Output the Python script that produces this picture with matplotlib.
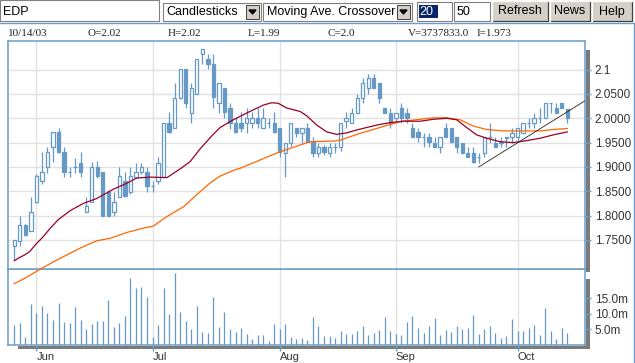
import numpy as np
import pandas as pd
import matplotlib
matplotlib.use('Agg')
import matplotlib.pyplot as plt
from matplotlib.patches import Rectangle, Polygon

plt.rcParams['font.family'] = ['Liberation Sans', 'DejaVu Sans']

# ---- data ----
dates = pd.bdate_range('2003-05-27', '2003-10-14')

opens = [1.738, 1.748, 1.780, 1.769, 1.828, 1.870, 1.899, 1.940, 1.971, 1.930,
         1.889, 1.899, 1.909, 1.808, 1.828, 1.899, 1.889, 1.849, 1.808, 1.839,
         1.870, 1.849, 1.880, 1.889, 1.890, 1.860, 1.870, 1.880, 1.990, 1.981,
         2.041, 2.101, 2.010, 2.051, 2.132, 2.121, 2.112, 2.031, 2.063, 2.021,
         1.991, 1.990, 1.990, 1.990, 2.000, 1.981, 1.990, 1.990, 1.981, 1.929,
         1.950, 1.981, 1.970, 1.981, 1.952, 1.929, 1.940, 1.929, 1.940, 1.940,
         1.995, 1.990, 2.010, 2.041, 2.062, 2.082, 2.072, 2.021, 2.010, 2.000,
         2.021, 2.010, 1.981, 1.972, 1.961, 1.961, 1.950, 1.940, 1.981, 1.981,
         1.961, 1.950, 1.929, 1.929, 1.920, 1.929, 1.961, 1.950, 1.950, 1.961,
         1.961, 1.961, 1.970, 1.990, 1.991, 2.000, 2.000, 2.031, 2.021, 2.031,
         2.020]
highs = [1.750, 1.799, 1.782, 1.839, 1.885, 1.931, 1.940, 1.971, 1.981, 1.940,
         1.900, 1.919, 1.930, 1.839, 1.910, 1.913, 1.889, 1.853, 1.849, 1.899,
         1.889, 1.899, 1.909, 1.909, 1.900, 1.870, 1.920, 1.990, 2.012, 2.073,
         2.101, 2.101, 2.073, 2.121, 2.142, 2.132, 2.132, 2.073, 2.063, 2.031,
         2.000, 2.012, 2.021, 2.012, 2.021, 2.021, 2.000, 2.012, 1.981, 1.950,
         1.990, 1.981, 1.981, 1.990, 1.962, 1.950, 1.945, 1.950, 1.950, 1.990,
         2.012, 2.021, 2.051, 2.082, 2.092, 2.092, 2.072, 2.021, 2.021, 2.010,
         2.031, 2.021, 1.990, 1.981, 1.970, 1.970, 1.961, 1.961, 1.990, 1.981,
         1.961, 1.950, 1.940, 1.940, 1.929, 1.961, 1.990, 1.961, 1.961, 1.962,
         1.981, 1.981, 1.990, 2.000, 2.010, 2.021, 2.031, 2.031, 2.031, 2.031,
         2.020]
lows = [1.708, 1.737, 1.757, 1.769, 1.825, 1.865, 1.888, 1.910, 1.928, 1.880,
        1.880, 1.887, 1.880, 1.808, 1.828, 1.878, 1.799, 1.799, 1.798, 1.839,
        1.838, 1.845, 1.878, 1.885, 1.849, 1.849, 1.865, 1.880, 1.970, 1.980,
        2.040, 2.021, 1.990, 2.051, 2.112, 2.101, 2.021, 2.010, 2.000, 1.977,
        1.970, 1.972, 1.970, 1.980, 1.980, 1.981, 1.981, 1.970, 1.920, 1.880,
        1.940, 1.961, 1.950, 1.952, 1.920, 1.920, 1.925, 1.920, 1.929, 1.932,
        1.980, 1.990, 2.010, 2.031, 2.051, 2.062, 2.031, 2.010, 1.980, 1.990,
        1.990, 1.990, 1.961, 1.952, 1.940, 1.940, 1.940, 1.929, 1.961, 1.952,
        1.929, 1.929, 1.920, 1.909, 1.909, 1.920, 1.950, 1.940, 1.940, 1.940,
        1.950, 1.952, 1.970, 1.981, 1.981, 1.990, 2.000, 2.010, 2.010, 2.021,
        1.990]
closes = [1.750, 1.780, 1.760, 1.808, 1.881, 1.890, 1.930, 1.971, 1.931, 1.890,
          1.890, 1.900, 1.890, 1.820, 1.899, 1.882, 1.799, 1.799, 1.828, 1.881,
          1.840, 1.881, 1.890, 1.899, 1.861, 1.861, 1.909, 1.990, 1.972, 2.041,
          2.101, 2.032, 2.062, 2.121, 2.142, 2.112, 2.043, 2.073, 2.012, 1.991,
          1.972, 1.981, 2.000, 2.000, 1.991, 2.000, 1.991, 1.972, 1.931, 1.950,
          1.990, 1.970, 1.981, 1.952, 1.929, 1.940, 1.931, 1.940, 1.940, 1.990,
          2.000, 2.010, 2.041, 2.072, 2.082, 2.062, 2.041, 2.010, 1.990, 2.010,
          2.000, 2.000, 1.962, 1.962, 1.961, 1.952, 1.940, 1.961, 1.961, 1.952,
          1.940, 1.929, 1.920, 1.911, 1.921, 1.961, 1.962, 1.940, 1.952, 1.960,
          1.970, 1.981, 1.990, 1.991, 2.000, 2.000, 2.031, 2.031, 2.010, 2.021,
          2.000]
# volume in millions
volume = [6.45, 7.1, 2.7, 13.2, 10.3, 12.6, 10.3, 8.1, 13.5, 7.4,
          7.1, 12.3, 8.1, 5.2, 6.8, 7.7, 7.7, 14.5, 5.8, 7.1,
          9.4, 21.6, 18.4, 18.7, 15.5, 2.6, 6.45, 18.4, 10.0, 23.2,
          10.6, 7.7, 5.2, 12.6, 4.2, 3.9, 15.5, 5.8, 10.6, 5.2,
          4.2, 5.5, 3.5, 1.9, 3.2, 3.2, 1.3, 6.8, 5.2, 6.8,
          2.7, 1.9, 2.3, 1.6, 9.0, 6.0, 2.9, 2.9, 2.3, 4.5,
          3.5, 3.5, 4.5, 6.1, 3.2, 3.9, 4.8, 9.0, 4.5, 3.5,
          3.2, 7.4, 9.4, 5.5, 3.9, 6.1, 8.7, 3.2, 4.8, 4.2,
          6.1, 5.2, 5.5, 9.7, 3.5, 5.2, 6.1, 3.9, 2.3, 2.9,
          8.4, 4.5, 4.5, 5.5, 6.45, 3.2, 11.9, 4.5, 1.9, 5.5,
          3.74]

# moving averages as drawn (day index, price)
ma20_day = [0, 1.0, 1.9, 2.8, 3.9, 5.2, 6.5, 8.0, 10.1, 12.5, 14.9, 17.9, 20.3,
            22.1, 24.5, 27.6, 30.0, 31.8, 33.6, 35.4, 37.2, 39.6, 42.6, 45.0,
            46.5, 47.7, 49.3, 51.7, 52.9, 54.7, 56.5, 58.3, 60.1, 61.9, 63.7,
            65.5, 67.9, 70.3, 73.4, 75.8, 78.2, 80.0, 81.8, 83.6, 85.4, 87.8,
            90.2, 92.6, 95.1, 97.5, 100]
ma20_val = [1.707, 1.714, 1.719, 1.726, 1.741, 1.756, 1.774, 1.792, 1.810, 1.825,
            1.835, 1.854, 1.866, 1.877, 1.879, 1.878, 1.896, 1.911, 1.937, 1.960,
            1.981, 1.997, 2.014, 2.027, 2.032, 2.031, 2.021, 2.014, 2.005, 1.986,
            1.972, 1.967, 1.970, 1.976, 1.981, 1.986, 1.991, 1.994, 1.994, 1.998,
            2.000, 1.997, 1.981, 1.966, 1.959, 1.952, 1.950, 1.954, 1.959, 1.966,
            1.972]
ma50_day = [0, 1.6, 3.4, 4.6, 7.1, 9.5, 11.9, 14.9, 17.3, 20.3, 23.3, 25.1, 27.6,
            30.6, 33.6, 35.4, 37.2, 39.9, 40.8, 44.4, 48.0, 51.7, 53.5, 57.7,
            58.9, 62.5, 66.1, 69.7, 73.4, 75.8, 78.2, 80.6, 83.0, 85.4, 88.4,
            91.4, 95.1, 97.5, 100]
ma50_val = [1.660, 1.669, 1.681, 1.689, 1.705, 1.719, 1.733, 1.748, 1.753, 1.765,
            1.774, 1.778, 1.798, 1.818, 1.849, 1.867, 1.881, 1.894, 1.897, 1.914,
            1.931, 1.945, 1.952, 1.953, 1.955, 1.969, 1.981, 1.993, 1.998, 2.001,
            2.001, 1.997, 1.984, 1.977, 1.974, 1.974, 1.974, 1.977, 1.979]

trend_day = [84, 103.2]
trend_val = [1.900, 2.036]

price_ticks = [1.75, 1.80, 1.85, 1.90, 1.95, 2.00, 2.05, 2.10]
price_labels = ['1.7500', '1.8000', '1.8500', '1.9000', '1.9500', '2.0000', '2.0500', '2.1']
vol_ticks = [5, 10, 15]
vol_labels = ['5.0m', '10.0m', '15.0m']

info = [(8, '10/14/03'), (88, 'O=2.02'), (168, 'H=2.02'), (248, 'L=1.99'),
        (328, 'C=2.0'), (408, 'V=3737833.0'), (477, 'I=1.973')]

# ---- style ----
BLUE = '#6699c6'
SPINE = '#6b9cc6'
GRID = '#e2e2e2'
RED = '#990022'
ORANGE = '#ff6600'
SHADOW = '#7a7a7a'
FACE = '#d4d0c8'

W, H = 635, 363
fig = plt.figure(figsize=(6.35, 3.63), dpi=100)


def rect(x0, y0, x1, y1):
    return [x0 / W, 1 - y1 / H, (x1 - x0) / W, (y1 - y0) / H]


bg = fig.add_axes([0, 0, 1, 1], zorder=0)
bg.set_xlim(0, W)
bg.set_ylim(H, 0)
bg.set_autoscale_on(False)
bg.axis('off')

# toolbar
def box(x0, y0, x1, y1, face='white'):
    bg.add_patch(Rectangle((x0, y0), x1 - x0, y1 - y0, facecolor=face,
                           edgecolor='#808080', lw=0.8))

def button(x0, y0, x1, y1, label):
    bg.add_patch(Rectangle((x0, y0), x1 - x0, y1 - y0, facecolor=FACE, edgecolor='none'))
    bg.plot([x0, x1, x1], [y1, y1, y0], color='#404040', lw=0.9)
    bg.plot([x0, x0, x1], [y1, y0, y0], color='white', lw=0.9)
    bg.text((x0 + x1) / 2, 14.5, label, ha='center', va='baseline', fontsize=9)

def dropdown(x0, x1, label):
    box(x0, 3, x1, 20.5)
    bx0, bx1 = x1 - 15, x1 - 2
    bg.add_patch(Rectangle((bx0, 5), bx1 - bx0, 13.5, facecolor=FACE, edgecolor='#404040', lw=0.7))
    cx = (bx0 + bx1) / 2
    bg.add_patch(Polygon([[cx - 3.5, 10], [cx + 3.5, 10], [cx, 14]], closed=True, color='black'))
    bg.text(x0 + 4, 15, label, ha='left', va='baseline', fontsize=9)

box(0, 0, 158.5, 20.5)
bg.text(3, 15, 'EDP', ha='left', va='baseline', fontsize=9)
dropdown(162.5, 261, 'Candlesticks')
dropdown(263, 412, 'Moving Ave. Crossover')
box(416.5, 1.5, 451.5, 20.5)
bg.add_patch(Rectangle((418.5, 4.5), 19, 13.5, facecolor='#0a246a', edgecolor='none'))
bg.text(419.5, 15, '20', ha='left', va='baseline', fontsize=9, color='white')
box(453.5, 1.5, 489.5, 20.5)
bg.text(456.5, 15, '50', ha='left', va='baseline', fontsize=9)
button(491.5, 0.5, 547.5, 20.5, 'Refresh')
button(549.5, 0.5, 590, 20.5, 'News')
button(592, 0.5, 632, 20.5, 'Help')

bg.plot([0, 633.5], [23, 23], color=SPINE, lw=1)
bg.plot([633.5, 633.5], [23, H], color=SPINE, lw=1)

for x, s in info:
    bg.text(x, 36.5, s, ha='left', va='baseline', fontsize=8,
            family='Liberation Serif', color='#222222')

# panel drop shadows
bg.add_patch(Rectangle((586, 49.5), 4, 222.5, facecolor=SHADOW, edgecolor='none', zorder=5))
bg.add_patch(Rectangle((586, 279), 4, 70, facecolor=SHADOW, edgecolor='none', zorder=5))
bg.add_patch(Rectangle((18, 345.8), 572, 3.4, facecolor=SHADOW, edgecolor='none', zorder=5))

# ---- panels ----
ax = fig.add_axes(rect(8, 41, 585, 269), zorder=3)
axv = fig.add_axes(rect(8, 269, 585, 345), zorder=2)

n = len(dates)
days = np.arange(n)
month_idx = [i for i in range(1, n) if dates[i].month != dates[i - 1].month]
month_lab = [dates[i].strftime('%b') for i in month_idx]

for a in (ax, axv):
    a.set_xlim(-1.14, 103.2)
    a.set_facecolor('white')
    for sp in a.spines.values():
        sp.set_color(SPINE)
        sp.set_linewidth(1.1)
    a.yaxis.tick_right()
    a.tick_params(axis='y', direction='out', length=4, width=1, color=SPINE,
                  labelsize=8.5, labelcolor='#333333', pad=3)
    a.set_axisbelow(True)
    for m in month_idx:
        a.axvline(m, color=GRID, lw=1, zorder=0)

ax.set_ylim(1.690, 2.159)
ax.set_yticks(price_ticks)
ax.set_yticklabels(price_labels)
for t in price_ticks:
    ax.axhline(t, color=GRID, lw=1, zorder=0)
ax.set_xticks([])

# candlesticks
bw = 0.6
for i in range(n):
    o, h, l, c = opens[i], highs[i], lows[i], closes[i]
    ax.plot([i, i], [l, h], color=BLUE, lw=0.9, zorder=2, solid_capstyle='butt')
    face = 'white' if c >= o else BLUE
    ax.add_patch(Rectangle((i - bw / 2, min(o, c)), bw, abs(c - o),
                           facecolor=face, edgecolor=BLUE, lw=0.9, zorder=3))

ax.plot(ma50_day, ma50_val, color=ORANGE, lw=0.9, zorder=4, clip_on=False)
ax.plot(ma20_day, ma20_val, color=RED, lw=0.9, zorder=5, clip_on=False)
ax.plot(trend_day, trend_val, color='#222222', lw=0.6, zorder=6)

# volume
axv.set_ylim(0, 24.5)
axv.vlines(days, 0, volume, color=BLUE, lw=0.9)
axv.set_yticks(vol_ticks)
axv.set_yticklabels(vol_labels)
axv.set_xticks(month_idx)
axv.set_xticklabels(month_lab, ha='left')
axv.tick_params(axis='x', direction='out', length=4, width=1, color=SPINE,
                labelsize=8, labelcolor='#333333', pad=1)

fig.savefig('out.png', dpi=100)
